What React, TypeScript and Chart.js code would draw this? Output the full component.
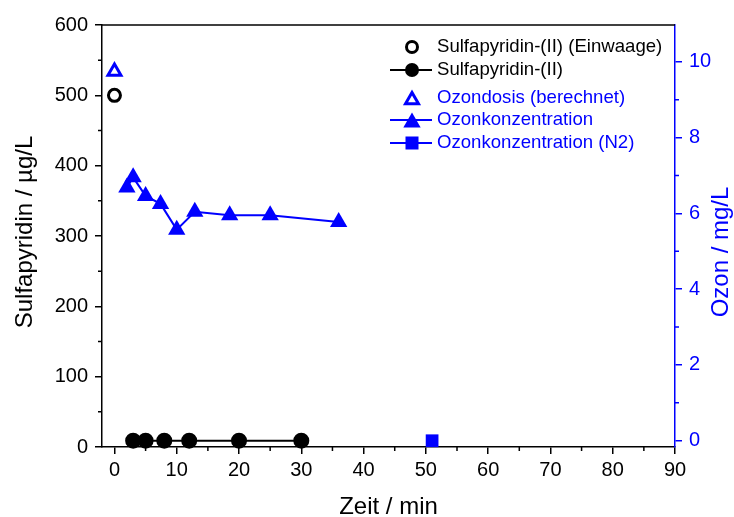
import React, { useEffect, useRef } from "react";
import { Chart, registerables } from "chart.js";

Chart.register(...registerables);

// ---- data ----
const xTickValues = [0, 10, 20, 30, 40, 50, 60, 70, 80, 90];
const xMinorValues = [5, 15, 25, 35, 45, 55, 65, 75, 85];
const leftTickValues = [0, 100, 200, 300, 400, 500, 600];
const leftMinorValues = [50, 150, 250, 350, 450, 550];
const rightTickValues = [0, 2, 4, 6, 8, 10];
const rightMinorValues = [1, 3, 5, 7, 9];

const einwaageX = [0];
const einwaageY = [500];

const sulfaX = [3, 5, 8, 12, 20, 30];
const sulfaY = [9, 9, 9, 9, 9, 9];

const dosisX = [0];
const dosisY = [9.74];

const ozonX = [2, 3, 5, 7.4, 10, 12.9, 18.5, 25, 36];
const ozonY = [6.68, 6.95, 6.46, 6.25, 5.57, 6.04, 5.95, 5.95, 5.77];

const n2X = [51];
const n2Y = [0];

const legendLabels = [
  "Sulfapyridin-(II) (Einwaage)",
  "Sulfapyridin-(II)",
  "Ozondosis (berechnet)",
  "Ozonkonzentration",
  "Ozonkonzentration (N2)",
];

const FONT = "'Liberation Sans', Arial, Helvetica, sans-serif";
const BLUE = "#0000ff";
const BLACK = "#000000";

const pts = (xs: number[], ys: number[]) => xs.map((x, i) => ({ x, y: ys[i] }));

function drawTri(ctx: CanvasRenderingContext2D, x: number, y: number, r: number) {
  ctx.beginPath();
  ctx.moveTo(x, y - r);
  ctx.lineTo(x + 0.866 * r, y + 0.5 * r);
  ctx.lineTo(x - 0.866 * r, y + 0.5 * r);
  ctx.closePath();
}

const extrasPlugin = {
  id: "extras",
  afterDraw(chart: any) {
    const ctx: CanvasRenderingContext2D = chart.ctx;
    const { left, right, top, bottom } = chart.chartArea;
    const sx = chart.scales.x;
    const sy = chart.scales.y;
    const sy2 = chart.scales.y2;
    ctx.save();
    // top border
    ctx.strokeStyle = BLACK;
    ctx.lineWidth = 1.5;
    ctx.beginPath();
    ctx.moveTo(left, top);
    ctx.lineTo(right, top);
    ctx.stroke();
    // minor ticks
    const minorLen = 4;
    ctx.beginPath();
    xMinorValues.forEach((v) => {
      const px = sx.getPixelForValue(v);
      ctx.moveTo(px, bottom);
      ctx.lineTo(px, bottom + minorLen);
    });
    leftMinorValues.forEach((v) => {
      const py = sy.getPixelForValue(v);
      ctx.moveTo(left, py);
      ctx.lineTo(left - minorLen, py);
    });
    ctx.stroke();
    ctx.strokeStyle = BLUE;
    ctx.beginPath();
    rightMinorValues.forEach((v) => {
      const py = sy2.getPixelForValue(v);
      ctx.moveTo(right, py);
      ctx.lineTo(right + minorLen, py);
    });
    ctx.stroke();

    // axis titles
    ctx.font = `24px ${FONT}`;
    ctx.textAlign = "center";
    ctx.textBaseline = "middle";
    ctx.fillStyle = BLACK;
    ctx.fillText("Zeit / min", (left + right) / 2, 507);
    ctx.save();
    ctx.translate(25, 232);
    ctx.rotate(-Math.PI / 2);
    ctx.fillText("Sulfapyridin / µg/L", 0, 0);
    ctx.restore();
    ctx.save();
    ctx.fillStyle = BLUE;
    ctx.translate(721, 252);
    ctx.rotate(-Math.PI / 2);
    ctx.fillText("Ozon / mg/L", 0, 0);
    ctx.restore();

    // legend
    const mx = 412;
    const tx = 437;
    const rows = [47, 70, 98, 120, 143];
    ctx.font = `18.6px ${FONT}`;
    ctx.textAlign = "left";
    ctx.textBaseline = "middle";
    // row 1
    ctx.strokeStyle = BLACK;
    ctx.lineWidth = 3;
    ctx.beginPath();
    ctx.arc(mx, rows[0], 5.5, 0, Math.PI * 2);
    ctx.stroke();
    ctx.fillStyle = BLACK;
    ctx.fillText(legendLabels[0], tx, rows[0]);
    // row 2
    ctx.lineWidth = 2;
    ctx.beginPath();
    ctx.moveTo(390, rows[1]);
    ctx.lineTo(432, rows[1]);
    ctx.stroke();
    ctx.beginPath();
    ctx.arc(mx, rows[1], 7, 0, Math.PI * 2);
    ctx.fill();
    ctx.fillText(legendLabels[1], tx, rows[1]);
    // row 3
    ctx.strokeStyle = BLUE;
    ctx.fillStyle = BLUE;
    ctx.lineWidth = 3;
    drawTri(ctx, mx, rows[2] + 2, 7.5);
    ctx.stroke();
    ctx.fillText(legendLabels[2], tx, rows[2]);
    // row 4
    ctx.lineWidth = 2;
    ctx.beginPath();
    ctx.moveTo(390, rows[3]);
    ctx.lineTo(432, rows[3]);
    ctx.stroke();
    drawTri(ctx, mx, rows[3] + 2.5, 10);
    ctx.fill();
    ctx.fillText(legendLabels[3], tx, rows[3]);
    // row 5
    ctx.beginPath();
    ctx.moveTo(390, rows[4]);
    ctx.lineTo(432, rows[4]);
    ctx.stroke();
    ctx.fillRect(mx - 6.5, rows[4] - 6.5, 13, 13);
    ctx.fillText(legendLabels[4], tx, rows[4]);
    ctx.restore();
  },
};

export default function App() {
  const ref = useRef<HTMLCanvasElement | null>(null);
  useEffect(() => {
    if (!ref.current) return;
    const tickFont = { family: FONT, size: 20 };
    const chart = new Chart(ref.current, {
      type: "scatter",
      data: {
        datasets: [
          {
            label: legendLabels[0],
            data: pts(einwaageX, einwaageY),
            yAxisID: "y",
            showLine: false,
            pointStyle: "circle",
            pointRadius: 6,
            borderWidth: 3,
            pointBorderWidth: 3,
            borderColor: BLACK,
            backgroundColor: "rgba(0,0,0,0)",
            clip: false,
          },
          {
            label: legendLabels[1],
            data: pts(sulfaX, sulfaY),
            yAxisID: "y",
            showLine: true,
            pointStyle: "circle",
            pointRadius: 7,
            borderWidth: 2,
            borderColor: BLACK,
            backgroundColor: BLACK,
            pointBackgroundColor: BLACK,
            clip: false,
          },
          {
            label: legendLabels[2],
            data: pts(dosisX, dosisY),
            yAxisID: "y2",
            showLine: false,
            pointStyle: "triangle",
            pointRadius: 7.5,
            pointBorderWidth: 3,
            borderColor: BLUE,
            backgroundColor: "rgba(0,0,0,0)",
            clip: false,
          },
          {
            label: legendLabels[3],
            data: pts(ozonX, ozonY),
            yAxisID: "y2",
            showLine: true,
            pointStyle: "triangle",
            pointRadius: 10,
            borderWidth: 2,
            pointBorderWidth: 0,
            borderColor: BLUE,
            backgroundColor: BLUE,
            pointBackgroundColor: BLUE,
            clip: false,
          },
          {
            label: legendLabels[4],
            data: pts(n2X, n2Y),
            yAxisID: "y2",
            showLine: true,
            pointStyle: "rect",
            pointRadius: 9,
            borderWidth: 2,
            pointBorderWidth: 0,
            borderColor: BLUE,
            backgroundColor: BLUE,
            pointBackgroundColor: BLUE,
            clip: false,
          },
        ],
      },
      options: {
        animation: false,
        responsive: false,
        maintainAspectRatio: false,
        layout: { padding: { top: 25, left: 0, right: 0, bottom: 0 } },
        plugins: { legend: { display: false }, tooltip: { enabled: false } },
        scales: {
          x: {
            type: "linear",
            position: "bottom",
            min: -2,
            max: 90,
            afterBuildTicks: (s: any) => {
              s.ticks = xTickValues.map((v) => ({ value: v }));
            },
            afterFit: (s: any) => {
              s.height = 70;
            },
            ticks: { color: BLACK, font: tickFont, padding: 4, maxRotation: 0, autoSkip: false },
            grid: { display: true, drawOnChartArea: false, drawTicks: true, tickLength: 7, color: BLACK, lineWidth: 1.5 },
            border: { display: true, color: BLACK, width: 1.5 },
          },
          y: {
            type: "linear",
            position: "left",
            min: 0,
            max: 600,
            afterBuildTicks: (s: any) => {
              s.ticks = leftTickValues.map((v) => ({ value: v }));
            },
            afterFit: (s: any) => {
              s.width = 102;
            },
            ticks: { color: BLACK, font: tickFont, padding: 7, autoSkip: false },
            grid: { display: true, drawOnChartArea: false, drawTicks: true, tickLength: 7, color: BLACK, lineWidth: 1.5 },
            border: { display: true, color: BLACK, width: 1.5 },
          },
          y2: {
            type: "linear",
            position: "right",
            min: -0.165,
            max: 10.97,
            afterBuildTicks: (s: any) => {
              s.ticks = rightTickValues.map((v) => ({ value: v }));
            },
            afterFit: (s: any) => {
              s.width = 59;
            },
            ticks: { color: BLUE, font: tickFont, padding: 7, autoSkip: false },
            grid: { display: true, drawOnChartArea: false, drawTicks: true, tickLength: 7, color: BLUE, lineWidth: 1.5 },
            border: { display: true, color: BLUE, width: 1.5 },
          },
        },
      },
      plugins: [extrasPlugin],
    } as any);
    return () => chart.destroy();
  }, []);
  return (
    <div style={{ position: "fixed", left: 0, top: 0, width: 734, height: 517, background: "#fff" }}>
      <canvas ref={ref} width={734} height={517} style={{ width: 734, height: 517, display: "block" }} />
    </div>
  );
}
